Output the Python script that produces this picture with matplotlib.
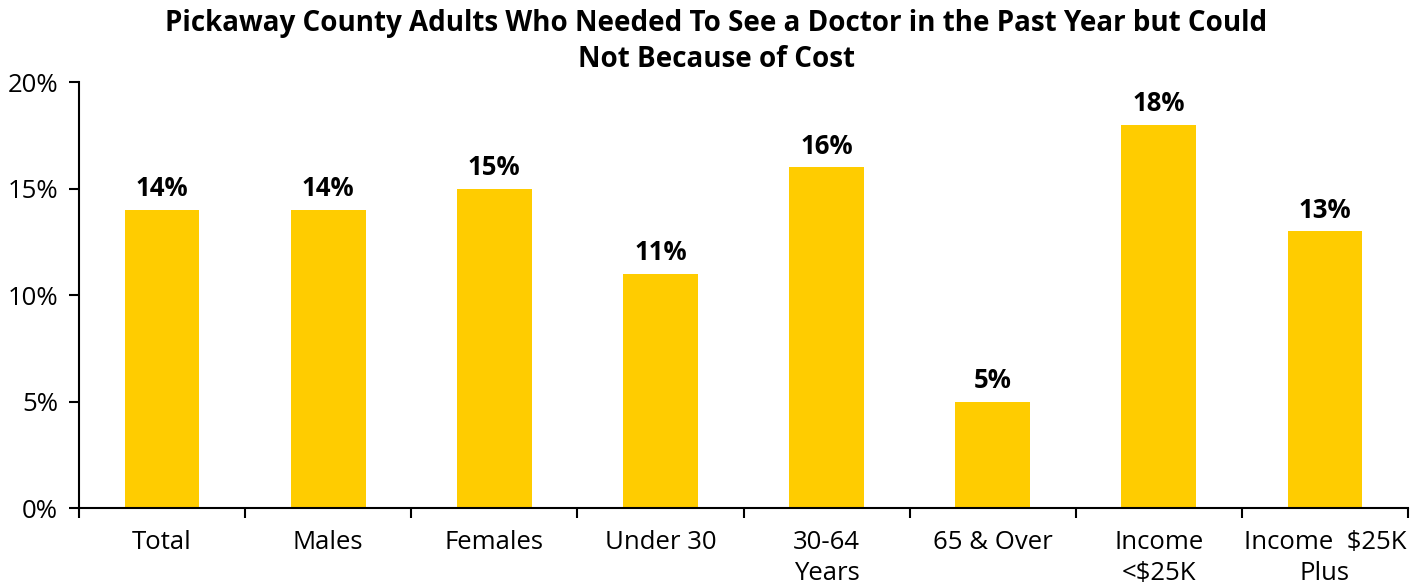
import matplotlib
matplotlib.use("Agg")
import matplotlib.pyplot as plt
from matplotlib.ticker import FuncFormatter, FixedLocator

categories = ["Total", "Males", "Females", "Under 30", "30-64\nYears",
              "65 & Over", "Income\n<$25K", "Income  $25K\nPlus"]
values = [14, 14, 15, 11, 16, 5, 18, 13]
yticks = [0, 5, 10, 15, 20]
title = "Pickaway County Adults Who Needed To See a Doctor in the Past Year but Could\nNot Because of Cost"

plt.rcParams['font.family'] = ['Open Sans', 'DejaVu Sans']

fig = plt.figure(figsize=(14.24, 5.85), dpi=100)
ax = fig.add_axes([79 / 1424, 1 - 508 / 585, (1408 - 79) / 1424, (508 - 82) / 585])

x = list(range(len(categories)))
bars = ax.bar(x, values, width=0.45, color="#FFCC00", zorder=2)
for xi, v in zip(x, values):
    ax.text(xi, v + 0.35, f"{v}%", ha="center", va="bottom",
            fontsize=18.5, fontweight="bold", color="black")

ax.set_xlim(-0.5, len(categories) - 0.5)
ax.set_ylim(0, 20)
ax.set_yticks(yticks)
ax.yaxis.set_major_formatter(FuncFormatter(lambda v, p: f"{int(v)}%"))
ax.set_xticks(x)
ax.set_xticklabels(categories, fontsize=18.5, linespacing=1.3)
ax.xaxis.set_minor_locator(FixedLocator([i - 0.5 for i in range(len(categories) + 1)]))
ax.tick_params(axis="x", which="major", length=0, pad=16)
ax.tick_params(axis="x", which="minor", length=7, width=1.5, direction="out")
ax.tick_params(axis="y", labelsize=18.5, length=7, width=1.5, direction="out", pad=8)

for side in ("top", "right"):
    ax.spines[side].set_visible(False)
for side in ("left", "bottom"):
    ax.spines[side].set_linewidth(1.5)

fig.text(0.503, 0.985, title, ha="center", va="top", fontsize=20,
         fontweight="bold", linespacing=1.35)

fig.savefig("out.png", dpi=100)
